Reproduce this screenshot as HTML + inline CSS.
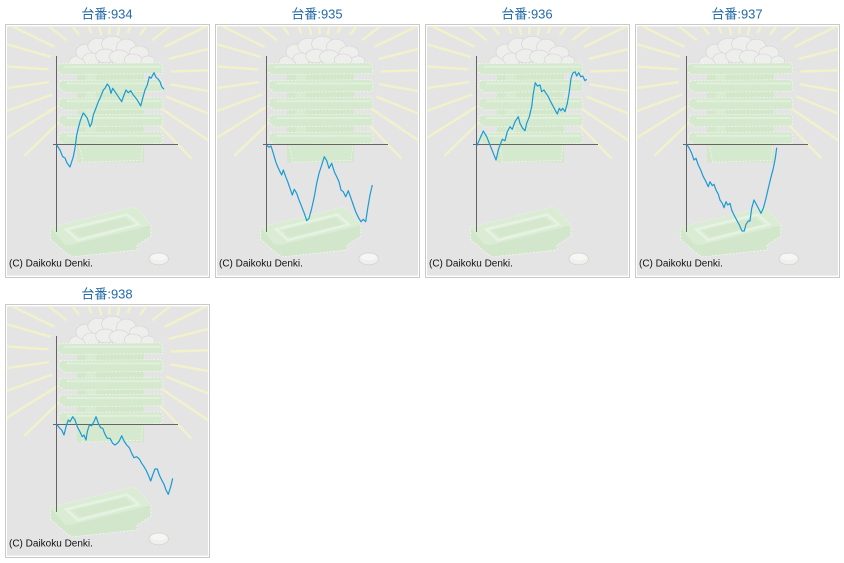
<!DOCTYPE html>
<html>
<head>
<meta charset="utf-8">
<style>
  html,body{margin:0;padding:0;background:#ffffff;}
  body{width:844px;height:563px;overflow:hidden;}
  svg{display:block;}
  .ttl{font-family:"Liberation Sans","Noto Sans CJK JP",sans-serif;font-size:13px;fill:#246aa9;}
  .cp{font-family:"Liberation Sans",sans-serif;font-size:10px;fill:#111;}
</style>
</head>
<body>
<svg width="844" height="563" viewBox="0 0 844 563" xmlns="http://www.w3.org/2000/svg">
<defs>
  <symbol id="bg" viewBox="0 0 204 253" width="204" height="253">
    <rect x="0" y="0" width="204" height="253" fill="#e4e4e4"/>
    <!-- rays -->
    <g stroke="#f1f1cc" stroke-width="2.5" stroke-linecap="butt">
      <line x1="62" y1="0" x2="220" y2="0" transform="translate(104 48) rotate(160)"/>
      <line x1="62" y1="0" x2="220" y2="0" transform="translate(104 48) rotate(172)"/>
      <line x1="62" y1="0" x2="220" y2="0" transform="translate(104 48) rotate(184)"/>
      <line x1="62" y1="0" x2="220" y2="0" transform="translate(104 48) rotate(196)"/>
      <line x1="62" y1="0" x2="220" y2="0" transform="translate(104 48) rotate(206)"/>
      <line x1="55" y1="0" x2="220" y2="0" transform="translate(104 48) rotate(218)"/>
      <line x1="50" y1="0" x2="220" y2="0" transform="translate(104 48) rotate(232)"/>
      <line x1="45" y1="0" x2="220" y2="0" transform="translate(104 48) rotate(246)"/>
      <line x1="40" y1="0" x2="220" y2="0" transform="translate(104 48) rotate(258)"/>
      <line x1="40" y1="0" x2="220" y2="0" transform="translate(104 48) rotate(270)"/>
      <line x1="40" y1="0" x2="220" y2="0" transform="translate(104 48) rotate(282)"/>
      <line x1="45" y1="0" x2="220" y2="0" transform="translate(104 48) rotate(294)"/>
      <line x1="50" y1="0" x2="220" y2="0" transform="translate(104 48) rotate(308)"/>
      <line x1="55" y1="0" x2="220" y2="0" transform="translate(104 48) rotate(322)"/>
      <line x1="62" y1="0" x2="220" y2="0" transform="translate(104 48) rotate(334)"/>
      <line x1="62" y1="0" x2="220" y2="0" transform="translate(104 48) rotate(346)"/>
      <line x1="62" y1="0" x2="220" y2="0" transform="translate(104 48) rotate(358)"/>
      <line x1="62" y1="0" x2="220" y2="0" transform="translate(104 48) rotate(10)"/>
      <line x1="62" y1="0" x2="220" y2="0" transform="translate(104 48) rotate(22)"/>
      <line x1="62" y1="0" x2="150" y2="0" transform="translate(104 48) rotate(148)"/>
      <line x1="62" y1="0" x2="150" y2="0" transform="translate(104 48) rotate(34)"/>
      <line x1="70" y1="0" x2="120" y2="0" transform="translate(104 48) rotate(136)"/>
      <line x1="70" y1="0" x2="120" y2="0" transform="translate(104 48) rotate(46)"/>
    </g>
    <!-- eggs -->
    <g fill="#eeeeec" stroke="#d6d6d4" stroke-width="0.7">
      <ellipse cx="72" cy="36" rx="9" ry="6"/>
      <ellipse cx="80" cy="26" rx="10" ry="8"/>
      <ellipse cx="93" cy="20" rx="11" ry="8"/>
      <ellipse cx="107" cy="18" rx="11" ry="8"/>
      <ellipse cx="121" cy="21" rx="10" ry="8"/>
      <ellipse cx="134" cy="27" rx="10" ry="7"/>
      <ellipse cx="143" cy="35" rx="7" ry="5"/>
      <ellipse cx="86" cy="33" rx="9" ry="6"/>
      <ellipse cx="100" cy="30" rx="10" ry="7"/>
      <ellipse cx="114" cy="31" rx="10" ry="7"/>
      <ellipse cx="128" cy="34" rx="9" ry="6"/>
    </g>
    <!-- stack -->
    <rect x="71" y="38" width="68" height="100" fill="#d3e7cb"/>
    <rect x="80" y="40" width="10" height="98" fill="#d9ecd3"/>
    <g fill="#d5e9ce" stroke="#f2f7f0" stroke-width="0.8" stroke-dasharray="2 1.5">
      <path d="M52,38 L156,37 L158,40 L158,48 L56,49 L50,45 Z"/>
      <path d="M54,55 L156,54 L158,57 L158,66 L58,67 L52,62 Z"/>
      <path d="M54,73 L156,72 L158,75 L158,84 L58,85 L52,80 Z"/>
      <path d="M54,90 L156,89 L158,92 L158,101 L58,102 L52,97 Z"/>
      <path d="M54,108 L156,107 L158,110 L158,119 L58,120 L52,115 Z"/>
      <path d="M73,120 L138,120 L136,136 L77,138 Z"/>
    </g>
    <g fill="#e1f0dc">
      <rect x="58" y="40" width="98" height="2"/>
      <rect x="60" y="57" width="96" height="2"/>
      <rect x="60" y="75" width="96" height="2"/>
      <rect x="60" y="92" width="96" height="2"/>
      <rect x="60" y="110" width="96" height="2"/>
    </g>
    <!-- tray -->
    <path d="M44,204 L126,184 L132,185 L146,202 L146,213 L132,222 L132,227 L66,234 L60,230 L44,216 Z" fill="#d2e6cb" stroke="#f4f8f2" stroke-width="0.8" stroke-dasharray="2 1.5"/>
    <path d="M44,204 L126,184 L132,185 L146,202 L64,222 L58,221 Z" fill="#dbecd5"/>
    <path d="M60,206 L122,191 L134,201 L72,217 Z" fill="none" stroke="#e6f2e2" stroke-width="2.5"/>
    <path d="M66,207 L120,194 L128,201 L74,214 Z" fill="#d5e8ce"/>
    <!-- coin -->
    <ellipse cx="154" cy="236" rx="10" ry="6" fill="#efefed" stroke="#d2d2d0" stroke-width="0.8"/>
    <ellipse cx="154" cy="234" rx="8" ry="3.5" fill="#f6f6f4"/>
  </symbol>
</defs>

<!-- Panel frames -->
<g fill="none" stroke="#c9c9c9" stroke-width="1">
  <rect x="5.5" y="24.5" width="204" height="253"/>
  <rect x="215.5" y="24.5" width="204" height="253"/>
  <rect x="425.5" y="24.5" width="204" height="253"/>
  <rect x="635.5" y="24.5" width="204" height="253"/>
  <rect x="5.5" y="304.5" width="204" height="253"/>
</g>
<use href="#bg" x="7" y="26" width="201" height="250"/>
<use href="#bg" x="217" y="26" width="201" height="250"/>
<use href="#bg" x="427" y="26" width="201" height="250"/>
<use href="#bg" x="637" y="26" width="201" height="250"/>
<use href="#bg" x="7" y="306" width="201" height="250"/>

<!-- Titles -->
<text class="ttl" x="107" y="18.5" text-anchor="middle">台番:934</text>
<text class="ttl" x="317" y="18.5" text-anchor="middle">台番:935</text>
<text class="ttl" x="527" y="18.5" text-anchor="middle">台番:936</text>
<text class="ttl" x="737" y="18.5" text-anchor="middle">台番:937</text>
<text class="ttl" x="107" y="298.5" text-anchor="middle">台番:938</text>

<!-- Axes -->
<g stroke="#686262" stroke-width="1">
  <line x1="56.5" y1="56" x2="56.5" y2="232"/>
  <line x1="53" y1="144.5" x2="178" y2="144.5"/>
  <line x1="266.5" y1="56" x2="266.5" y2="232"/>
  <line x1="263" y1="144.5" x2="388" y2="144.5"/>
  <line x1="476.5" y1="56" x2="476.5" y2="232"/>
  <line x1="473" y1="144.5" x2="598" y2="144.5"/>
  <line x1="686.5" y1="56" x2="686.5" y2="232"/>
  <line x1="683" y1="144.5" x2="808" y2="144.5"/>
  <line x1="56.5" y1="336" x2="56.5" y2="512"/>
  <line x1="53" y1="424.5" x2="178" y2="424.5"/>
</g>

<!-- Series -->
<g fill="none" stroke="#1a9ad4" stroke-width="1.2" stroke-linejoin="round">
  <polyline points="56.7,145 60,150 62.7,156.7 65,158 67,163 70,167 71.7,161.7 73.3,156.7 75,148 76.7,135 78.3,128 80,121.7 81.7,116.7 83.3,113 85,115 87.3,118.3 90,126.7 91.7,123 93.3,115 96,108 98.3,101.7 100.7,96.7 103.3,90 105,88.3 107.3,84 109.3,86.7 111,93.3 112.7,88.3 115,91.7 118.3,96.7 121.7,101.7 124,95 126,90 128.3,92.7 130.7,90.7 133.3,95 136,98.3 138.3,101.7 140.7,106 142.7,98.3 145,90 147.3,85 149.3,76.7 151,78.3 154,72.7 156,77.3 158.3,79.3 160,81.7 161.7,86.7 164,89.3"/>
  <polyline points="266.7,145 269,147.3 271,146 273.3,153.3 275.7,161.7 277.7,166.7 280,171.7 281.7,175 283.3,170 285.7,176.7 287.7,181.7 290,188.3 292.3,195 294.3,189.3 296.7,193.3 299,200 301.7,206.7 304.3,213.3 306.7,220.7 309,218.3 311.7,208.3 314.3,196.7 316.7,183.3 319,173.3 321.7,165 324.3,156.7 326.7,160.7 329,168.3 331.7,163.3 334.3,171.7 336.7,176.7 339,181.7 341,190 343.3,191.7 345.7,196.7 348.3,190.7 351,198.3 353.3,205 355.7,211.7 358.3,217.3 361,221.7 363.3,219.3 365.7,221.7 367.7,208.3 370,195 372.3,185"/>
  <polyline points="476.7,146 479.3,140 483.3,131 486.7,136.7 490,145 493.3,153.3 496,160 498.3,150 500.7,143.3 502.3,139.3 505,140.7 507.3,131.7 510,126.7 512.3,129.3 515,121.7 518.3,116.7 520,123.3 522.7,128.3 525,130.7 526.7,123.3 529.3,116.7 531.7,106.7 533.3,93.3 535.3,82.7 537.3,86 540,85 541.7,91.7 544,90 546,93.3 548.3,96.7 550.7,101.7 553.3,106.7 556,111.7 557.3,114 559.3,108.3 561,110.7 562.7,108.3 565,111.7 567.3,103.3 569.3,91.7 571,78.3 572.7,73.3 575,71.7 576.7,76 578.7,72.7 580.7,76.7 582.7,76 585,80.7 586.7,79.3"/>
  <polyline points="686.7,144.3 689.3,148.3 691.7,153.3 694,160 696,158.3 698.3,165 700.7,170 703.3,176.7 706,181.7 708.3,186.7 710,181.7 712.3,185.7 714,184.3 716,190 718.3,194.3 720,200 722.3,203.3 724,207.7 726,201.7 727.7,205 730,203.3 731.7,210 734,215 736.7,220 739.3,225 742,231 744.3,231 746,224.3 748.3,221 750,221 751.7,208.3 754,200 756.7,205 759.3,210 761,213.3 763.3,208.3 766,198.3 768.3,188.3 770.7,178.3 773.3,168.3 775.3,158.3 776.7,147.7"/>
  <polyline points="56.7,424.3 59.3,427.7 61.7,430 64,435 66,426.7 68.3,420 70,421.7 72.7,416.7 75,420 77.3,426.7 80,431.7 82.3,436.7 84,435 86,440 87.3,431.7 89.3,425 91.7,425.7 94,421.7 96,416.7 98.3,423.3 100.7,427.7 102.7,428.3 105,434.3 107.3,438.3 110,438.3 112.7,443.3 115,445 117.3,443.3 119.3,441 121.7,435.7 124,441 126.7,445 129.3,447.7 131.7,453.3 134,457.7 136.7,456.7 139.3,459 141.7,463.3 144,466.7 146,470 148.3,475 150.7,481 152.7,475 155,469 157.3,469 159.3,475 161.7,480 164,484.3 166,490 168.3,494.3 170.7,486.7 172.7,478.3"/>
</g>

<!-- Copyright -->
<text class="cp" x="9" y="266.5">(C) Daikoku Denki.</text>
<text class="cp" x="219" y="266.5">(C) Daikoku Denki.</text>
<text class="cp" x="429" y="266.5">(C) Daikoku Denki.</text>
<text class="cp" x="639" y="266.5">(C) Daikoku Denki.</text>
<text class="cp" x="9" y="546.5">(C) Daikoku Denki.</text>
</svg>
</body>
</html>
